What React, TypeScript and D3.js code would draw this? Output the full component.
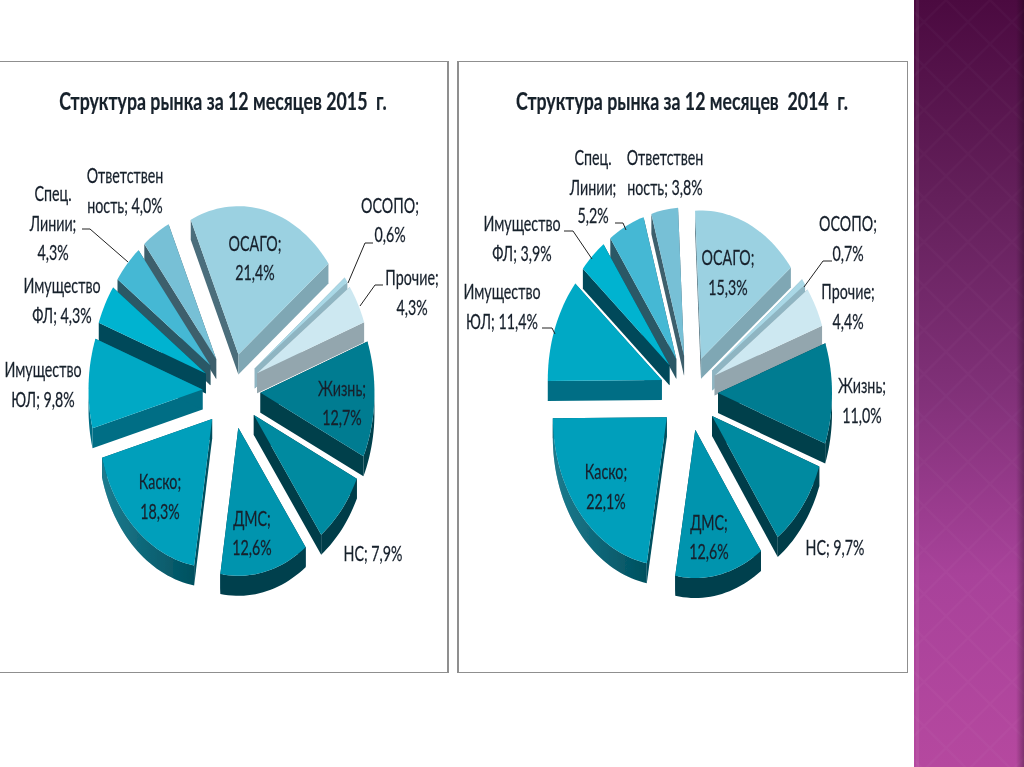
import React from 'react';
import * as d3 from 'd3';

const categories = ['ОСАГО', 'ОСОПО', 'Прочие', 'Жизнь', 'НС', 'ДМС', 'Каско', 'Имущество ЮЛ', 'Имущество ФЛ', 'Спец. Линии', 'Ответственность'];
const values2015 = [21.4, 0.6, 4.3, 12.7, 7.9, 12.6, 18.3, 9.8, 4.3, 4.3, 4.0];
const values2014 = [15.3, 0.7, 4.4, 11.0, 9.7, 12.6, 22.1, 11.4, 3.9, 5.2, 3.8];
const topColors = ['#9bd1e1', '#aad8e6', '#cde8f1', '#007c91', '#008aa0', '#0094ae', '#009fbb', '#00a9c5', '#00b3d0', '#44b8d4', '#77c0d6'];
const wallColors = ['#7fa7b4', '#8fb5c2', '#93a6ae', '#003f4c', '#003e4a', '#003f4d', '#00505f', '#006e85', '#004a5a', '#2a5866', '#3e5f6c'];
const startFaceColors = ['#4b6e7b', '#7fa7b4', '#93a6ae', '#003f4c', '#003e4a', '#003f4d', '#00505f', '#006e85', '#004a5a', '#2a5866', '#3e5f6c'];
const wallSheen = [false, false, false, false, false, false, true, false, false, false, false];

const title2015 = 'Структура рынка за 12 месяцев 2015  г.';
const title2014 = 'Структура рынка за 12 месяцев  2014  г.';

type Lbl = { lines: string[]; x: number; ys: number[] };
const labels2015: Lbl[] = [
  { lines: ['ОСАГО;', '21,4%'], x: 255, ys: [243, 272] },
  { lines: ['ОСОПО;', '0,6%'], x: 390, ys: [205, 234] },
  { lines: ['Прочие;', '4,3%'], x: 412, ys: [277, 307] },
  { lines: ['Жизнь;', '12,7%'], x: 342, ys: [388, 417] },
  { lines: ['НС; 7,9%'], x: 373, ys: [553] },
  { lines: ['ДМС;', '12,6%'], x: 252, ys: [518, 547] },
  { lines: ['Каско;', '18,3%'], x: 160, ys: [481, 511] },
  { lines: ['Имущество', 'ЮЛ; 9,8%'], x: 43, ys: [369, 399] },
  { lines: ['Имущество', 'ФЛ; 4,3%'], x: 62, ys: [285, 315] },
  { lines: ['Спец.', 'Линии;', '4,3%'], x: 53, ys: [193, 223, 252] },
  { lines: ['Ответствен', 'ность; 4,0%'], x: 125, ys: [175, 205] },
];
const labels2014: Lbl[] = [
  { lines: ['ОСАГО;', '15,3%'], x: 728, ys: [257, 287] },
  { lines: ['ОСОПО;', '0,7%'], x: 848, ys: [223, 253] },
  { lines: ['Прочие;', '4,4%'], x: 848, ys: [291, 321] },
  { lines: ['Жизнь;', '11,0%'], x: 862, ys: [385, 415] },
  { lines: ['НС; 9,7%'], x: 835, ys: [547] },
  { lines: ['ДМС;', '12,6%'], x: 709, ys: [522, 551] },
  { lines: ['Каско;', '22,1%'], x: 606, ys: [471, 501] },
  { lines: ['Имущество', 'ЮЛ; 11,4%'], x: 502, ys: [291, 321] },
  { lines: ['Имущество', 'ФЛ; 3,9%'], x: 522, ys: [223, 253] },
  { lines: ['Спец.', 'Линии;', '5,2%'], x: 593, ys: [157, 187, 215] },
  { lines: ['Ответствен', 'ность; 3,8%'], x: 665, ys: [157, 187] },
];
const leaders2015: [number, number][][] = [
  [[373, 243], [365, 243], [348, 283]],
  [[383, 285], [375, 285], [360, 306]],
  [[82, 229], [90, 229], [128, 262]],
];
const leaders2014: [number, number][][] = [
  [[832, 261], [823, 261], [804, 287]],
  [[564, 231], [573, 231], [592, 259]],
  [[615, 223], [623, 223], [626, 230]],
  [[542, 328], [552, 328], [555, 334]],
];

const deg = Math.PI / 180;
const lineGen = d3.line<[number, number]>();
const leaderGen = d3.line<[number, number]>();

function Pie3D({ values, cx, cy, startDeg }: { values: number[]; cx: number; cy: number; startDeg: number }) {
  const R = 114, k = 1.3, explode = 29, depth = 20;
  const sx = d3.scaleLinear().domain([-1, 1]).range([-R, R]);
  const sy = d3.scaleLinear().domain([-1, 1]).range([-R * k, R * k]);
  const arcs = d3.pie<number>().sort(null).value(d => d)
    .startAngle(startDeg * deg).endAngle(startDeg * deg + 2 * Math.PI)(values);
  const slices = arcs.map((a, i) => {
    const mid = (a.startAngle + a.endAngle) / 2;
    const ox = cx + explode * Math.sin(mid);
    const oy = cy - explode * k * Math.cos(mid);
    const n = Math.max(3, Math.ceil((a.endAngle - a.startAngle) / (2 * deg)));
    const arcPts: [number, number][] = d3.range(n + 1).map(j => {
      const t = a.startAngle + (a.endAngle - a.startAngle) * j / n;
      return [ox + sx(Math.sin(t)), oy + sy(-Math.cos(t))];
    });
    const apex: [number, number] = [ox, oy];
    return { i, mid, apex, arcPts };
  }).sort((p, q) => Math.cos(q.mid) - Math.cos(p.mid));
  const down = (p: [number, number]): [number, number] => [p[0], p[1] + depth];
  const quad = (p: [number, number], q: [number, number]) => lineGen([p, q, down(q), down(p)]) + 'Z';
  return (
    <g>
      {slices.map(s => {
        const last = s.arcPts[s.arcPts.length - 1];
        // the part of the rim that faces the viewer is a single contiguous run
        const visible = s.arcPts.filter((p, j) => {
          const a = s.arcPts[j - 1], b = s.arcPts[j + 1];
          return (a && p[0] < a[0]) || (b && b[0] < p[0]);
        });
        const rim = visible.length > 1
          ? lineGen([...visible, ...visible.slice().reverse().map(down)]) + 'Z' : '';
        return (
          <g key={s.i}>
            <path d={quad(s.apex, s.arcPts[0])} fill={startFaceColors[s.i]} />
            <path d={quad(last, s.apex)} fill={wallColors[s.i]} />
            {rim && <path d={rim} fill={wallColors[s.i]} />}
            {rim && wallSheen[s.i] && <path d={rim} fill="url(#sheen)" />}
            <path d={lineGen([s.apex, ...s.arcPts]) + 'Z'} fill={topColors[s.i]} />
          </g>
        );
      })}
    </g>
  );
}

function Labels({ labels }: { labels: Lbl[] }) {
  return (
    <g fontFamily="Lato, 'Open Sans', sans-serif" fontSize={21} fill="#17202c" stroke="#17202c" strokeWidth={0.25} textAnchor="middle">
      {labels.flatMap((l, i) => l.lines.map((t, j) => (
        <text key={i + '-' + j} transform={`translate(${l.x},${l.ys[j] + 7.5}) scale(0.68,1)`}>{t}</text>
      )))}
    </g>
  );
}

export default function App() {
  return (
    <svg width={1024} height={767} viewBox="0 0 1024 767"
      style={{ position: 'fixed', left: 0, top: 0, display: 'block', background: '#fff' }}>
      <defs>
        <linearGradient id="strip" x1="0" y1="0" x2="0" y2="1">
          <stop offset="0" stopColor="#4b0a40" />
          <stop offset="0.26" stopColor="#64205b" />
          <stop offset="0.5" stopColor="#7f3077" />
          <stop offset="0.75" stopColor="#a8429a" />
          <stop offset="1" stopColor="#b5489f" />
        </linearGradient>
        <linearGradient id="edge" x1="0" y1="0" x2="1" y2="0">
          <stop offset="0" stopColor="#000" stopOpacity="0" />
          <stop offset="1" stopColor="#000" stopOpacity="0.3" />
        </linearGradient>
        <linearGradient id="sheen" x1="0" y1="0" x2="1" y2="0">
          <stop offset="0" stopColor="#3fb0c8" stopOpacity="0.45" />
          <stop offset="1" stopColor="#3fb0c8" stopOpacity="0" />
        </linearGradient>
        <pattern id="diamonds" width="44" height="44" patternUnits="userSpaceOnUse">
          <path d="M0 22L22 0L44 22L22 44Z" fill="none" stroke="#fff" strokeOpacity="0.018" strokeWidth="2" />
        </pattern>
        <filter id="soft" x="0" y="0" width="100%" height="100%">
          <feGaussianBlur stdDeviation="0.45" />
        </filter>
      </defs>
      <rect x={914} y={0} width={110} height={767} fill="url(#strip)" />
      <rect x={914} y={0} width={110} height={767} fill="url(#diamonds)" />
      <rect x={1016} y={0} width={8} height={767} fill="url(#edge)" />
      <rect x={916} y={0} width={3} height={767} fill="#fff" fillOpacity={0.06} />
      <g filter="url(#soft)">
        <rect x={-2} y={61} width={450} height={612} fill="#fff" stroke="#8f8f8f" strokeWidth={2} />
        <rect x={458} y={61} width={450} height={612} fill="#fff" stroke="#8f8f8f" strokeWidth={2} />
        <Pie3D values={values2015} cx={231.5} cy={391} startDeg={-24.7} />
        <Pie3D values={values2014} cx={689} cy={393} startDeg={-3} />
        {[...leaders2015, ...leaders2014].map((l, i) => (
          <path key={i} d={leaderGen(l) ?? ''} fill="none" stroke="#222" strokeWidth={1} />
        ))}
        <Labels labels={labels2015} />
        <Labels labels={labels2014} />
        <g fontFamily="Lato, 'Open Sans', sans-serif" fontSize={24} fontWeight={700} fill="#17202c" stroke="#17202c" strokeWidth={0.2} textAnchor="middle">
          <text transform="translate(223,110) scale(0.74,1)" xmlSpace="preserve">{title2015}</text>
          <text transform="translate(682,110) scale(0.74,1)" xmlSpace="preserve">{title2014}</text>
        </g>
      </g>
    </svg>
  );
}
